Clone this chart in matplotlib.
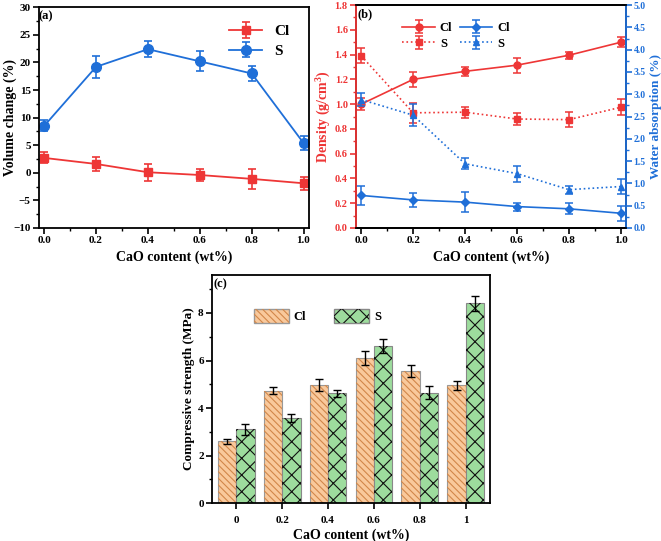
import numpy as np
import matplotlib.pyplot as plt
from matplotlib.ticker import MultipleLocator
from matplotlib.patches import Patch

plt.rcParams['font.family'] = ['Liberation Serif', 'DejaVu Serif']
plt.rcParams['font.weight'] = 'bold'
plt.rcParams['axes.labelweight'] = 'bold'
plt.rcParams['mathtext.fontset'] = 'custom'
plt.rcParams['mathtext.rm'] = 'Liberation Serif:bold'
plt.rcParams['mathtext.default'] = 'rm'
plt.rcParams['hatch.linewidth'] = 0.8

RED = '#ee3636'
BLUE = '#1f6fd8'

# ---- data ----
cao = np.array([0.0, 0.2, 0.4, 0.6, 0.8, 1.0])

vol_cl = [2.7, 1.6, 0.1, -0.4, -1.1, -1.9]
vol_cl_err = [1.0, 1.2, 1.5, 1.1, 1.8, 1.2]
vol_s = [8.5, 19.2, 22.4, 20.2, 18.0, 5.4]
vol_s_err = [1.0, 2.0, 1.5, 1.8, 1.4, 1.3]

den_cl = [1.00, 1.20, 1.265, 1.315, 1.395, 1.50]
den_cl_err = [0.05, 0.06, 0.035, 0.06, 0.03, 0.04]
den_s = [1.39, 0.93, 0.935, 0.88, 0.875, 0.975]
den_s_err = [0.06, 0.08, 0.045, 0.05, 0.06, 0.065]

wa_cl = [0.73, 0.63, 0.58, 0.48, 0.43, 0.33]
wa_cl_err = [0.22, 0.15, 0.22, 0.09, 0.12, 0.17]
wa_s = [2.88, 2.53, 1.44, 1.22, 0.86, 0.93]
wa_s_err = [0.14, 0.24, 0.12, 0.18, 0.09, 0.16]

cs_labels = ['0', '0.2', '0.4', '0.6', '0.8', '1']
cs_cl = [2.6, 4.72, 4.97, 6.1, 5.55, 4.95]
cs_cl_err = [0.1, 0.15, 0.27, 0.3, 0.25, 0.2]
cs_s = [3.1, 3.57, 4.62, 6.62, 4.65, 8.4]
cs_s_err = [0.22, 0.17, 0.15, 0.3, 0.27, 0.3]

CL_FACE, CL_HATCH = '#f9c99c', '#d2874a'
S_FACE, S_HATCH = '#9ddc9d', '#111111'


def style_ax(ax, fs=8):
    ax.tick_params(which='major', direction='out', length=4, width=1.2, labelsize=fs, pad=2)
    ax.tick_params(which='minor', direction='out', length=2, width=1.0)
    for s in ax.spines.values():
        s.set_linewidth(1.3)


fig = plt.figure(figsize=(6.61, 5.41), dpi=100)

# ---- (a) volume change ----
ax1 = fig.add_axes([0.059, 0.5786, 0.408, 0.408])
ax1.errorbar(cao, vol_cl, yerr=vol_cl_err, color=RED, marker='s', ms=6,
             lw=1.3, capsize=3, elinewidth=1.2, capthick=1.2, label='Cl')
ax1.errorbar(cao, vol_s, yerr=vol_s_err, color=BLUE, marker='o', ms=7,
             lw=1.3, capsize=3, elinewidth=1.2, capthick=1.2, label='S')
ax1.set_xlim(-0.02, 1.02)
ax1.set_ylim(-10, 30)
ax1.set_xticks(cao)
ax1.set_xticklabels(['%.1f' % v for v in cao])
ax1.xaxis.set_minor_locator(MultipleLocator(0.1))
ax1.yaxis.set_major_locator(MultipleLocator(5))
ax1.yaxis.set_minor_locator(MultipleLocator(2.5))
ax1.set_xlabel('CaO content (wt%)', fontsize=10)
ax1.set_ylabel('Volume change (%)', fontsize=10)
ax1.yaxis.set_label_coords(-0.083, 0.5)
style_ax(ax1)
ax1.text(0.0, 0.985, '(a)', transform=ax1.transAxes, fontsize=9, va='top')
ax1.legend(loc='upper right', frameon=False, fontsize=11, handlelength=2.2,
           borderaxespad=0.3, bbox_to_anchor=(0.97, 0.97), labelspacing=0.4)

# ---- (b) density / water absorption ----
ax2 = fig.add_axes([0.5386, 0.5786, 0.4085, 0.412])
l1 = ax2.errorbar(cao, den_cl, yerr=den_cl_err, color=RED, marker='o', ms=5,
                  lw=1.2, capsize=3, elinewidth=1.1, capthick=1.1)
l2 = ax2.errorbar(cao, den_s, yerr=den_s_err, color=RED, marker='s', ms=5,
                  lw=1.2, ls=':', capsize=3, elinewidth=1.1, capthick=1.1)
ax2.set_xlim(-0.02, 1.02)
ax2.set_ylim(0, 1.8)
ax2.set_xticks(cao)
ax2.set_xticklabels(['%.1f' % v for v in cao])
ax2.xaxis.set_minor_locator(MultipleLocator(0.1))
ax2.yaxis.set_major_locator(MultipleLocator(0.2))
ax2.yaxis.set_minor_locator(MultipleLocator(0.1))
ax2.set_xlabel('CaO content (wt%)', fontsize=10)
ax2.set_ylabel('Density (g/cm$^3$)', fontsize=10, color=RED)
ax2.yaxis.set_label_coords(-0.085, 0.5)
style_ax(ax2)
ax2.tick_params(axis='y', colors=RED, which='both', labelsize=7.5)

ax3 = ax2.twinx()
l3 = ax3.errorbar(cao, wa_cl, yerr=wa_cl_err, color=BLUE, marker='D', ms=4,
                  lw=1.2, capsize=3, elinewidth=1.1, capthick=1.1)
l4 = ax3.errorbar(cao, wa_s, yerr=wa_s_err, color=BLUE, marker='^', ms=5,
                  lw=1.2, ls=':', capsize=3, elinewidth=1.1, capthick=1.1)
ax3.set_ylim(0, 5)
ax3.yaxis.set_major_locator(MultipleLocator(0.5))
ax3.yaxis.set_minor_locator(MultipleLocator(0.25))
ax3.set_ylabel('Water absorption (%)', fontsize=9.5, color=BLUE)
ax3.yaxis.set_label_coords(1.088, 0.5)
style_ax(ax3)
ax3.tick_params(axis='y', colors=BLUE, which='both', labelsize=7, pad=1.5)
ax3.spines['right'].set_color(BLUE)
ax3.spines['left'].set_color(RED)
ax2.text(0.005, 0.985, '(b)', transform=ax2.transAxes, fontsize=9, va='top')
ax2.legend([l1, l2, l3, l4], ['Cl', 'S', 'Cl', 'S'], ncol=2, loc='upper left',
           bbox_to_anchor=(0.13, 0.975), frameon=False, fontsize=9,
           handlelength=2.6, columnspacing=0.6, labelspacing=0.3, handletextpad=0.4)

# ---- (c) compressive strength ----
ax4 = fig.add_axes([0.3207, 0.0702, 0.4206, 0.4215])
pos = np.arange(len(cs_labels))
w = 0.4
ax4.bar(pos - w / 2, cs_cl, w, color=CL_FACE, edgecolor='#999999', lw=0.8)
ax4.bar(pos - w / 2, cs_cl, w, color='none', edgecolor=CL_HATCH, lw=0, hatch='\\\\\\\\\\')
ax4.bar(pos + w / 2, cs_s, w, color=S_FACE, edgecolor='#888888', lw=0.8)
ax4.bar(pos + w / 2, cs_s, w, color='none', edgecolor=S_HATCH, lw=0, hatch='xx')
ax4.errorbar(pos - w / 2, cs_cl, yerr=cs_cl_err, fmt='none', ecolor='black',
             capsize=3, elinewidth=1.0, capthick=1.0)
ax4.errorbar(pos + w / 2, cs_s, yerr=cs_s_err, fmt='none', ecolor='black',
             capsize=3, elinewidth=1.0, capthick=1.0)
ax4.set_xlim(-0.53, 5.53)
ax4.set_ylim(0, 9.6)
ax4.set_xticks(pos)
ax4.set_xticklabels(cs_labels)
ax4.yaxis.set_major_locator(MultipleLocator(2))
ax4.yaxis.set_minor_locator(MultipleLocator(1))
ax4.set_xlabel('CaO content (wt%)', fontsize=10, labelpad=3)
ax4.set_ylabel('Compressive strength (MPa)', fontsize=9.5)
ax4.yaxis.set_label_coords(-0.06, 0.5)
style_ax(ax4)
ax4.tick_params(axis='x', pad=5)
ax4.text(0.005, 0.985, '(c)', transform=ax4.transAxes, fontsize=9, va='top')

h1 = (Patch(facecolor=CL_FACE, edgecolor='#999999'),
      Patch(facecolor='none', edgecolor=CL_HATCH, hatch='\\\\\\\\\\', lw=0))
h2 = (Patch(facecolor=S_FACE, edgecolor='#888888'),
      Patch(facecolor='none', edgecolor=S_HATCH, hatch='xx', lw=0))
ax4.legend([h1, h2], ['Cl', 'S'], ncol=2, loc='upper left', bbox_to_anchor=(0.11, 0.9),
           frameon=False, fontsize=9, handlelength=2.8, handleheight=1.3,
           columnspacing=2.2, handletextpad=0.4)

fig.savefig('out.png', dpi=100)
